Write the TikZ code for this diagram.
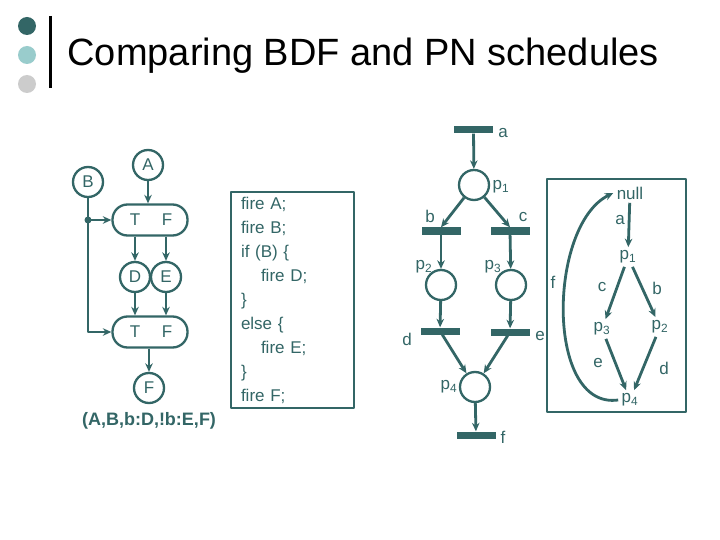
\documentclass[tikz,border=0pt]{standalone}
\usepackage{fontspec}
\setmainfont{Liberation Sans}
\usetikzlibrary{arrows.meta}
\definecolor{slate}{RGB}{51,102,102}
\definecolor{mint}{RGB}{153,204,204}
\definecolor{ash}{RGB}{204,204,204}
\newcommand{\plc}[1]{p\textsubscript{#1}}

\begin{document}
\begin{tikzpicture}[x=1pt, y=-1pt, >={Stealth[length=8.5pt,width=7.5pt]}, line join=round,
    every node/.style={text=slate, font=\fontsize{17}{20}\selectfont},
    place/.style={circle, draw=slate, line width=2.3pt, minimum size=30pt, inner sep=0pt},
    trans/.style={fill=slate, minimum width=39pt, minimum height=7pt, inner sep=0pt},
    switch/.style={rectangle, rounded corners=15pt, draw=slate, line width=2.3pt, minimum width=75pt, minimum height=31pt},
    arc/.style={->, draw=slate, line width=2.8pt},
    frame/.style={draw=slate, line width=1.4pt}]
    \path[fill=white, use as bounding box] (0,0) rectangle (720,540);

    \fill[slate] (27,26) circle (9pt);
    \fill[mint] (27,55) circle (9pt);
    \fill[ash] (27,84) circle (9pt);
    \draw[line width=3pt] (50,16) -- (50,88);
    \node[anchor=base west, text=black, font=\fontsize{38}{40}\selectfont] (title) at (64,66) {Comparing BDF and PN schedules};

    \node[place] (A) at (148,165) {A};
    \node[place] (B) at (88,182) {B};
    \node[switch] (sw1) at (150,220) {};
    \node (t1) at (135,220) {T};
    \node (f1) at (167,220) {F};
    \node[place] (D) at (135,277) {D};
    \node[place] (E) at (166,277) {E};
    \node[switch] (sw2) at (150,332) {};
    \node (t2) at (135,332) {T};
    \node (f2) at (167,332) {F};
    \node[place] (F) at (149,388) {F};
    \node[font=\bfseries\fontsize{18}{20}\selectfont] (seq) at (149,421) {(A,B,b:D,!b:E,F)};
    \coordinate (fork) at (88,220);
    \draw[arc] (A) -- (sw1.north -| A);
    \draw[arc] (sw1.south -| D) -- (D);
    \draw[arc] (sw1.south -| E) -- (E);
    \draw[arc] (D) -- (sw2.north -| D);
    \draw[arc] (E) -- (sw2.north -| E);
    \draw[arc] (sw2.south -| F) -- (F);
    \draw[arc] (B) |- (sw2);
    \draw[arc] (fork) -- (sw1);
    \fill[slate] (fork) circle (3.5pt);

    \node[frame, minimum width=123pt, minimum height=216pt, text width=103pt, inner xsep=10pt, align=left,
      font=\fontsize{17}{24}\selectfont] (code) at (292.5,300)
      {fire A;\\ fire B;\\ if (B) \{\\ \hspace*{20pt}fire D;\\ \}\\ else \{\\ \hspace*{20pt}fire E;\\ \}\\ fire F;};

    \node[trans] (ta) at (473.5,130) {};
    \node[place] (p1) at (474,185) {};
    \node[trans] (tb) at (441,231) {};
    \node[trans] (tc) at (510,231) {};
    \node[place] (p2) at (441,285) {};
    \node[place] (p3) at (511,285) {};
    \node[trans] (td) at (440,331) {};
    \node[trans] (te) at (510,332) {};
    \node[place] (p4) at (475,387) {};
    \node[trans] (tf) at (476,435) {};
    \node (la) at (503,133) {a};
    \node (lp1) at (501,187) {\plc{1}};
    \node (lb) at (430,216) {b};
    \node (lc) at (523,217) {c};
    \node (lp2) at (424,267) {\plc{2}};
    \node (lp3) at (493,267) {\plc{3}};
    \node (ld) at (407,339) {d};
    \node (le) at (540,336) {e};
    \node (lp4) at (449,387) {\plc{4}};
    \node (lf) at (503,437) {f};
    \draw[arc] (ta) -- (p1);
    \draw[arc] (p1) -- (tb.north);
    \draw[arc] (p1) -- (tc.north);
    \draw[arc] (tb) -- (p2);
    \draw[arc] (tc) -- (p3);
    \draw[arc] (p2) -- (td);
    \draw[arc] (p3) -- (te);
    \draw[arc] (td) -- (p4);
    \draw[arc] (te) -- (p4);
    \draw[arc] (p4) -- (tf);

    \draw[frame] (547,179) rectangle (686,412);
    \node (null) at (630,193) {null};
    \node (r1) at (628,257) {\plc{1}};
    \node (r3) at (602,329) {\plc{3}};
    \node (r2) at (660,327) {\plc{2}};
    \node (r4) at (630,400) {\plc{4}};
    \node (ra) at (620,220) {a};
    \node (rc) at (602,287) {c};
    \node (rb) at (657,288) {b};
    \node (re) at (598,363) {e};
    \node (rd) at (664,368) {d};
    \node (rf) at (553,282) {f};
    \draw[arc] (null) -- (r1);
    \draw[arc] (r1) -- (r3);
    \draw[arc] (r1) -- (r2);
    \draw[arc] (r3) -- (r4);
    \draw[arc] (r2) -- (r4);
    \draw[arc] (r4.west) .. controls (545,410) and (548,225) .. (null.west);
\end{tikzpicture}
\end{document}
